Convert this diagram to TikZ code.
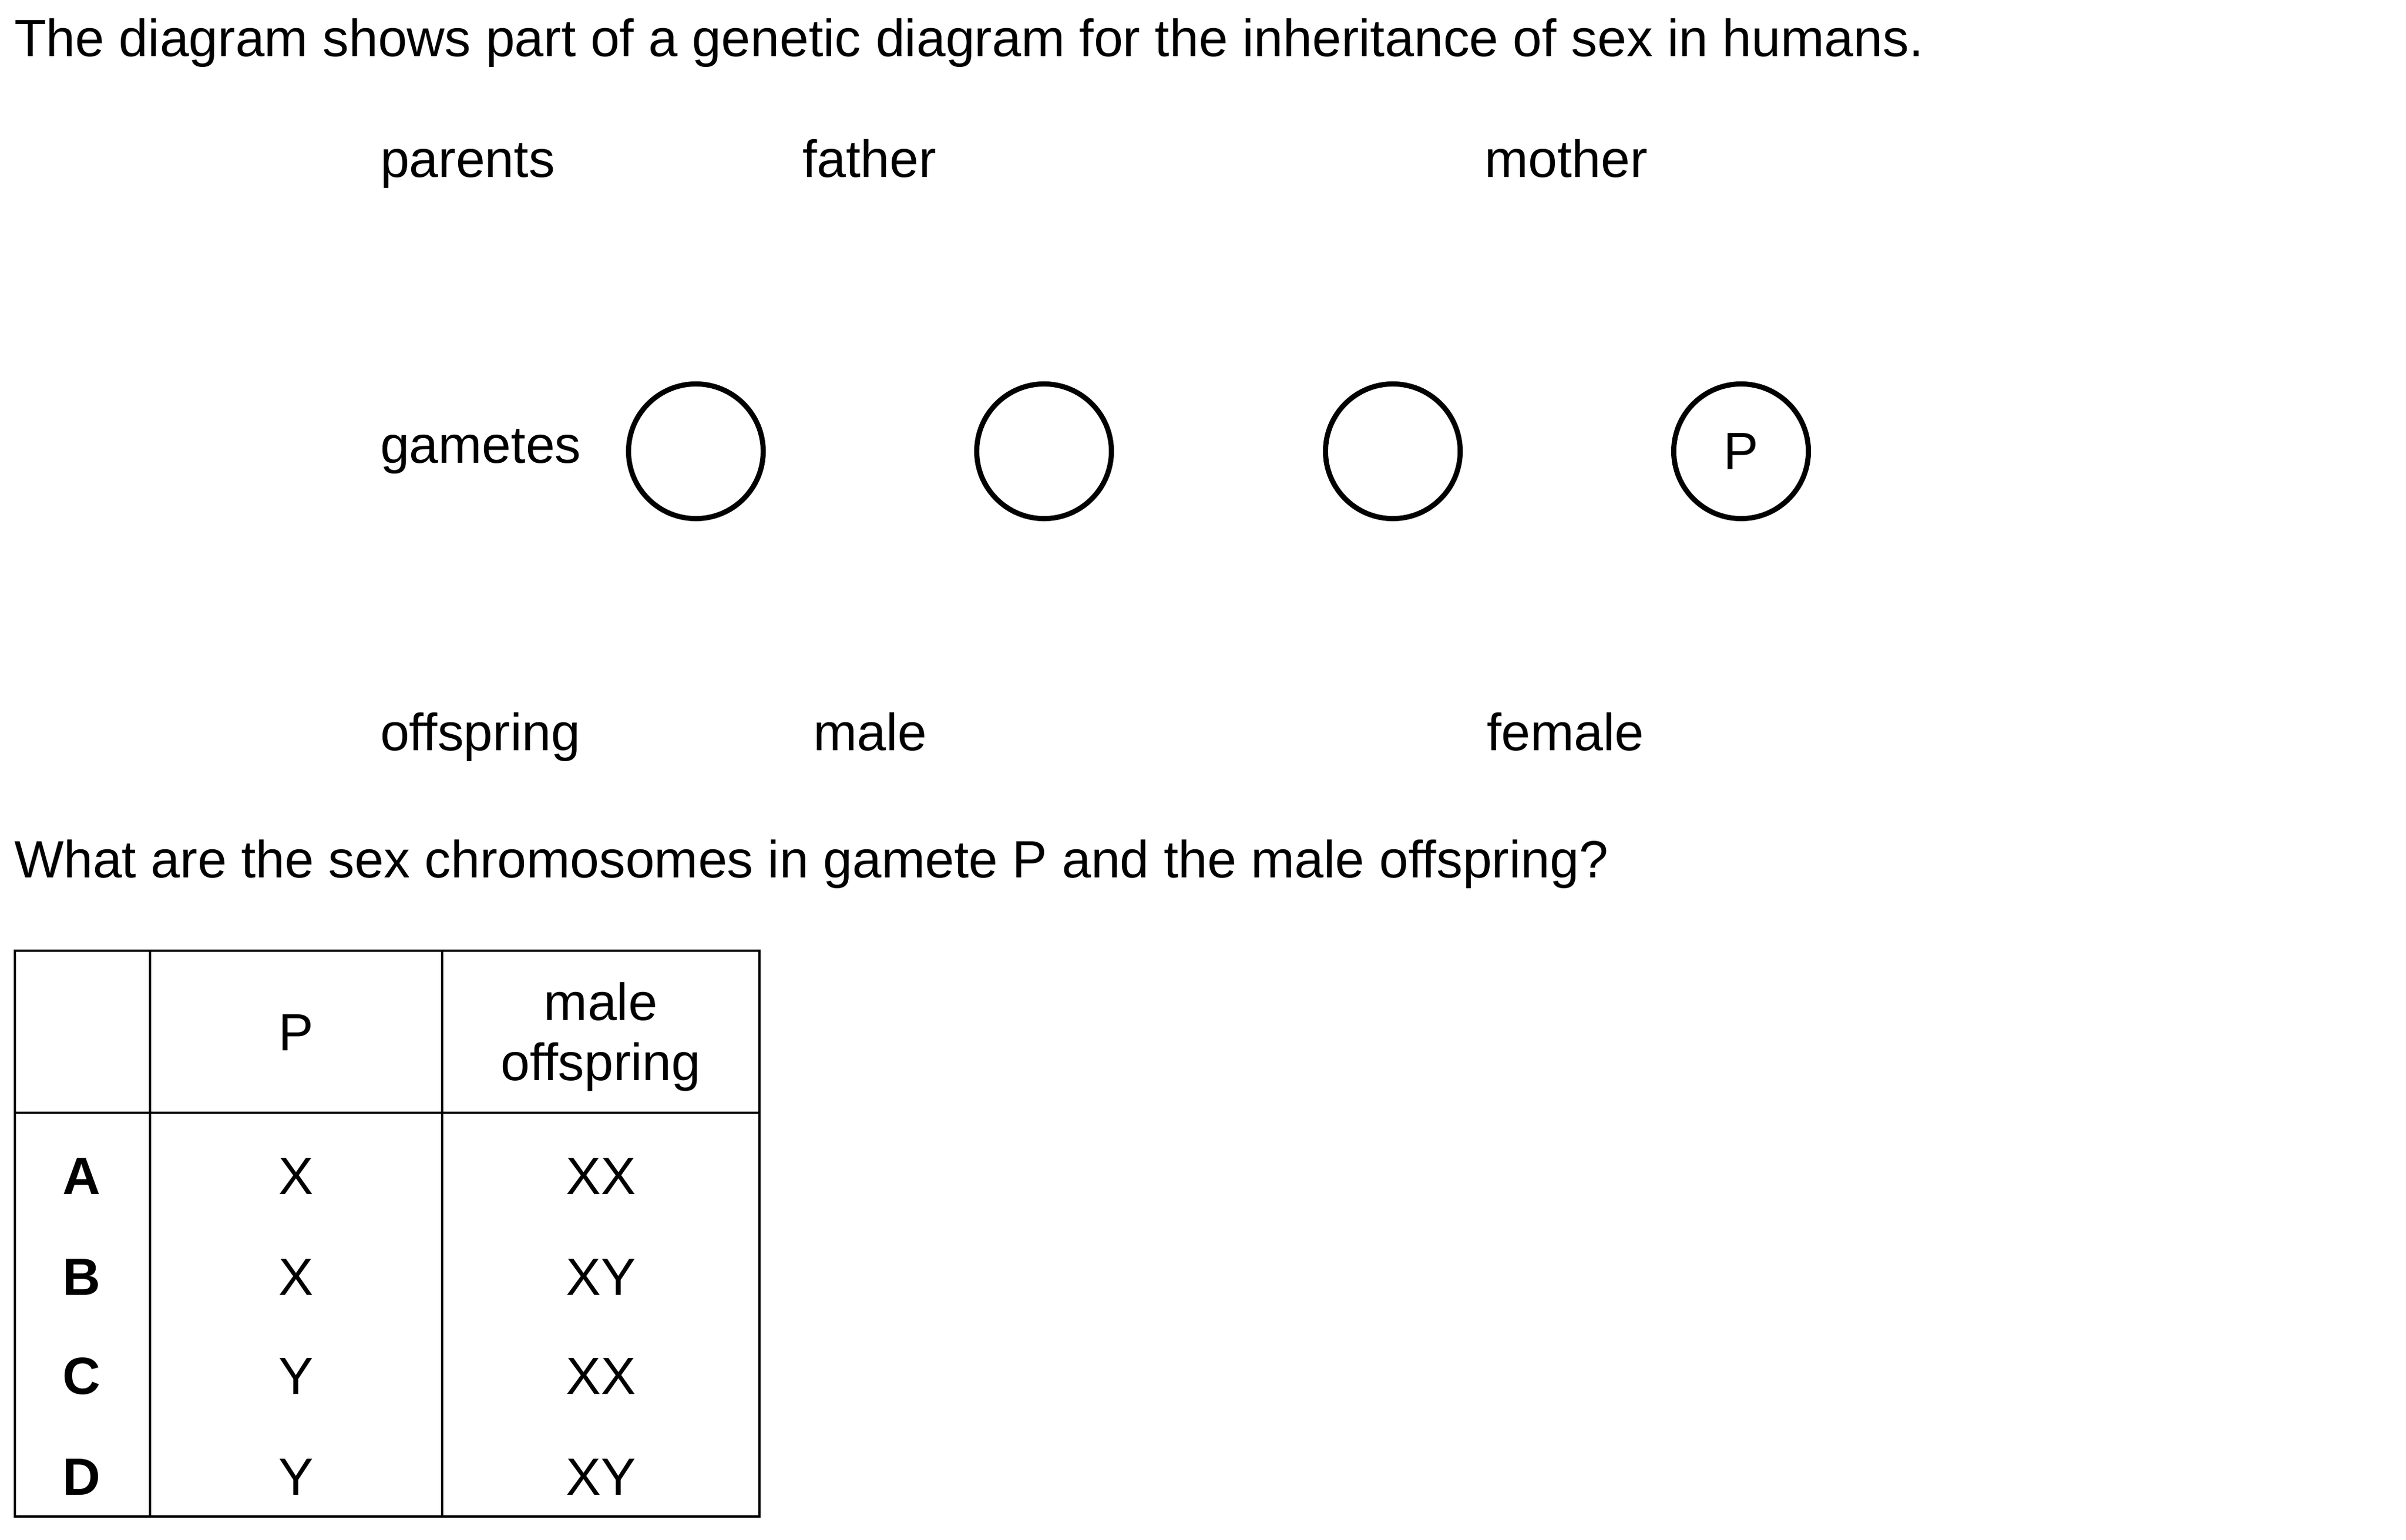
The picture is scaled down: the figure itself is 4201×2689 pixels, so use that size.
\documentclass[tikz,border=0pt]{standalone}
\usepackage{fontspec}
\setmainfont{Liberation Sans}
\begin{document}
\begin{tikzpicture}[x=0.01cm,y=-0.01cm,
  txt/.style={inner sep=0pt,outer sep=0pt,font=\fontsize{26}{31}\selectfont},
  lbl/.style={txt,anchor=base west},
  cell/.style={txt,anchor=base},
  bcell/.style={cell,font=\fontsize{26}{31}\selectfont\bfseries},
  gamete/.style={circle,draw,line width=0.09cm,minimum size=2.35cm,inner sep=0pt,font=\fontsize{26}{31}\selectfont},
  grid/.style={line width=0.043cm}]
\useasboundingbox (0,0) rectangle (4201,2689);
\fill[white] (0,0) rectangle (4201,2689);
% texts
\node[lbl] (title) at (25,99) {The diagram shows part of a genetic diagram for the inheritance of sex in humans.};
\node[lbl] (parents) at (664,310) {parents};
\node[lbl] (father) at (1401,310) {father};
\node[lbl] (mother) at (2592,310) {mother};
\node[lbl] (gametes) at (664,809) {gametes};
\node[gamete] (g1) at (1215,788) {};
\node[gamete] (g2) at (1823,788) {};
\node[gamete] (g3) at (2432,788) {};
\node[gamete] (g4) at (3040,788) {P};
\node[lbl] (offspring) at (664,1311) {offspring};
\node[lbl] (male) at (1420,1311) {male};
\node[lbl] (female) at (2596,1311) {female};
\node[lbl] (question) at (25,1533) {What are the sex chromosomes in gamete P and the male offspring?};
% table
\draw[grid] (26,1660) rectangle (1326,2648);
\draw[grid] (26,1943) -- (1326,1943);
\draw[grid] (262,1660) -- (262,2648);
\draw[grid] (772,1660) -- (772,2648);
\node[cell] (hP) at (517,1835) {P};
\node[cell] (hM1) at (1049,1782) {male};
\node[cell] (hM2) at (1049,1887) {offspring};
\node[bcell] (rA) at (143,2086) {A};
\node[bcell] (rB) at (143,2261) {B};
\node[bcell] (rC) at (143,2434) {C};
\node[bcell] (rD) at (143,2610) {D};
\node[cell] (pA) at (517,2086) {X};
\node[cell] (pB) at (517,2261) {X};
\node[cell] (pC) at (517,2434) {Y};
\node[cell] (pD) at (517,2610) {Y};
\node[cell] (mA) at (1049,2086) {XX};
\node[cell] (mB) at (1049,2261) {XY};
\node[cell] (mC) at (1049,2434) {XX};
\node[cell] (mD) at (1049,2610) {XY};
\end{tikzpicture}
\end{document}
